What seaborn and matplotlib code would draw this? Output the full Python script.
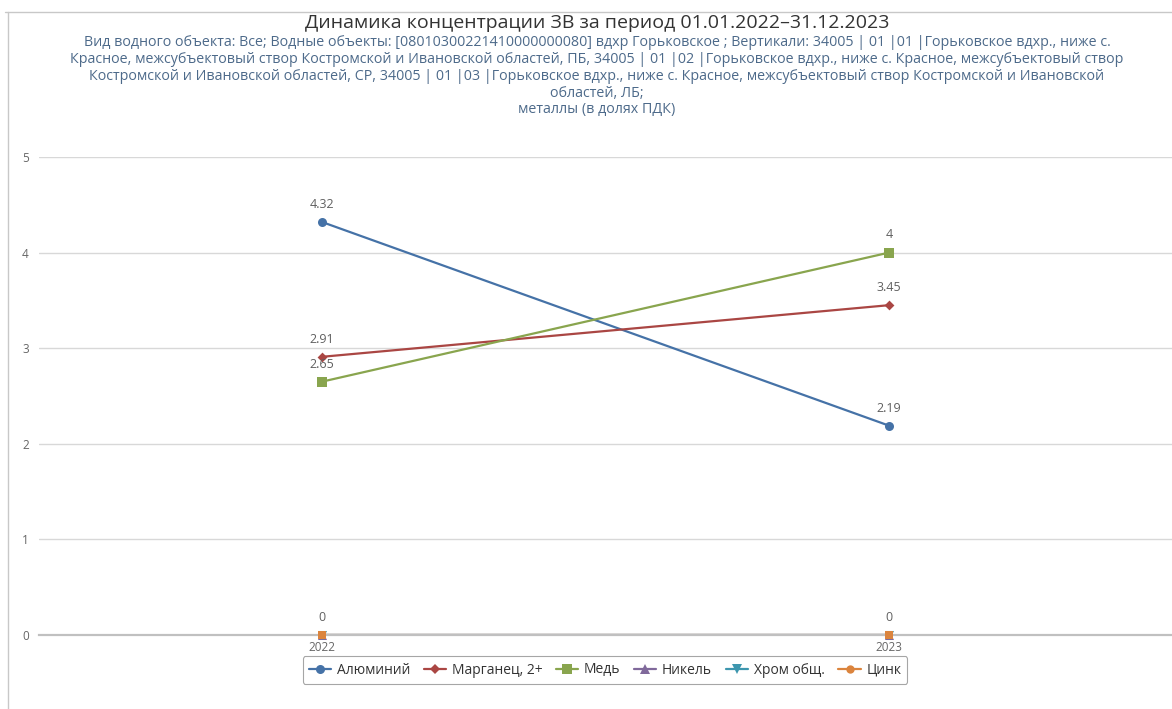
import matplotlib
matplotlib.use("Agg")
import matplotlib.pyplot as plt
import seaborn as sns
import pandas as pd
from matplotlib.lines import Line2D

years = ["2022", "2023"]
series_names = ["Алюминий", "Марганец, 2+", "Медь", "Никель", "Хром общ.", "Цинк"]
aluminium = [4.32, 2.19]
manganese = [2.91, 3.45]
copper = [2.65, 4.0]
nickel = [0, 0]
chromium = [0, 0]
zinc = [0, 0]
label_values = ["4.32", "2.19", "2.91", "3.45", "2.65", "4", None, None, None, None, "0", "0"]
y_ticks = [0, 1, 2, 3, 4, 5]

title = "Динамика концентрации ЗВ за период 01.01.2022–31.12.2023"
subtitle = ("Вид водного объекта: Все; Водные объекты: [08010300221410000000080] вдхр Горьковское ; Вертикали: 34005 | 01 |01 |Горьковское вдхр., ниже с.\n"
            "Красное, межсубъектовый створ Костромской и Ивановской областей, ПБ, 34005 | 01 |02 |Горьковское вдхр., ниже с. Красное, межсубъектовый створ\n"
            "Костромской и Ивановской областей, СР, 34005 | 01 |03 |Горьковское вдхр., ниже с. Красное, межсубъектовый створ Костромской и Ивановской\n"
            "областей, ЛБ;\n"
            "металлы (в долях ПДК)")

colors = ["#4572A7", "#AA4643", "#89A54E", "#80699B", "#3D96AE", "#DB843D"]
markers = ["o", "D", "s", "^", "v", "s"]
msizes = [6.5, 5, 6.5, 6.5, 6.5, 6]
values = [aluminium, manganese, copper, nickel, chromium, zinc]

rows = []
for name, vals in zip(series_names, values):
    for i, v in enumerate(vals):
        rows.append({"series": name, "x": i, "value": v})
df = pd.DataFrame(rows)

sns.set_theme(style="white")
plt.rcParams["font.family"] = ["Open Sans", "DejaVu Sans"]

W, H = 1172, 709
fig = plt.figure(figsize=(W / 100, H / 100), dpi=100)
ax = fig.add_axes([38.5 / W, 1 - 635 / H, (1172.5 - 38.5) / W, (635 - 157) / H])

for name, c, m, ms in zip(series_names, colors, markers, msizes):
    sub = df[df["series"] == name]
    sns.lineplot(data=sub, x="x", y="value", ax=ax, color=c, linewidth=1.6,
                 legend=False, zorder=3)
    sns.scatterplot(data=sub, x="x", y="value", ax=ax, color=c, marker=m,
                    s=ms ** 2, linewidth=0, legend=False, clip_on=False, zorder=6)

k = 0
for vals in values:
    for i, v in enumerate(vals):
        lab = label_values[k]
        k += 1
        if lab is not None:
            ax.annotate(lab, (i, v), xytext=(0, 8), textcoords="offset points",
                        ha="center", va="bottom", fontsize=9, color="#606060", zorder=7)

ax.set_xlim(-0.5, 1.5)
ax.set_ylim(0, 5)
ax.set_yticks(y_ticks)
ax.set_yticklabels([str(t) for t in y_ticks], fontsize=8.5, color="#666666")
ax.set_xticks([0, 1])
ax.set_xticklabels(years, fontsize=8.5, color="#666666")
ax.tick_params(axis="y", length=0, pad=7)
ax.tick_params(axis="x", length=0, pad=4)
ax.grid(axis="y", color="#d8d8d8", linewidth=1.0)
ax.set_axisbelow(True)
for s in ["top", "right", "left"]:
    ax.spines[s].set_visible(False)
ax.spines["bottom"].set_color("#c0c0c0")
ax.spines["bottom"].set_linewidth(1.6)
ax.spines["bottom"].set_zorder(5)
ax.set_xlabel("")
ax.set_ylabel("")

fig.text(597 / W, 1 - 23 / H, title, ha="center", va="center", fontsize=14, color="#333333")
fig.text(597 / W, 1 - 35 / H, subtitle, ha="center", va="top", fontsize=10.3,
         color="#4d6a8a", linespacing=1.17)

handles = [Line2D([], [], color=c, marker=m, markersize=ms, markeredgewidth=0, linewidth=1.6)
           for c, m, ms in zip(colors, markers[:5] + ["o"], msizes)]
leg = fig.legend(handles, series_names, loc="center", bbox_to_anchor=(605 / W, 1 - 670 / H),
                 ncol=6, frameon=True, fancybox=True, fontsize=10, handlelength=1.6,
                 handletextpad=0.4, columnspacing=1.0, borderpad=0.45, labelcolor="#333333")
leg.get_frame().set_edgecolor("#909090")
leg.get_frame().set_linewidth(0.8)

fig.add_artist(Line2D([5 / W, 1], [1 - 12 / H, 1 - 12 / H], color="#c8c8c8", linewidth=1.0))
fig.add_artist(Line2D([8 / W, 8 / W], [1 - 12 / H, 0], color="#c8c8c8", linewidth=1.0))

fig.savefig("out.png", dpi=100, facecolor="white")
